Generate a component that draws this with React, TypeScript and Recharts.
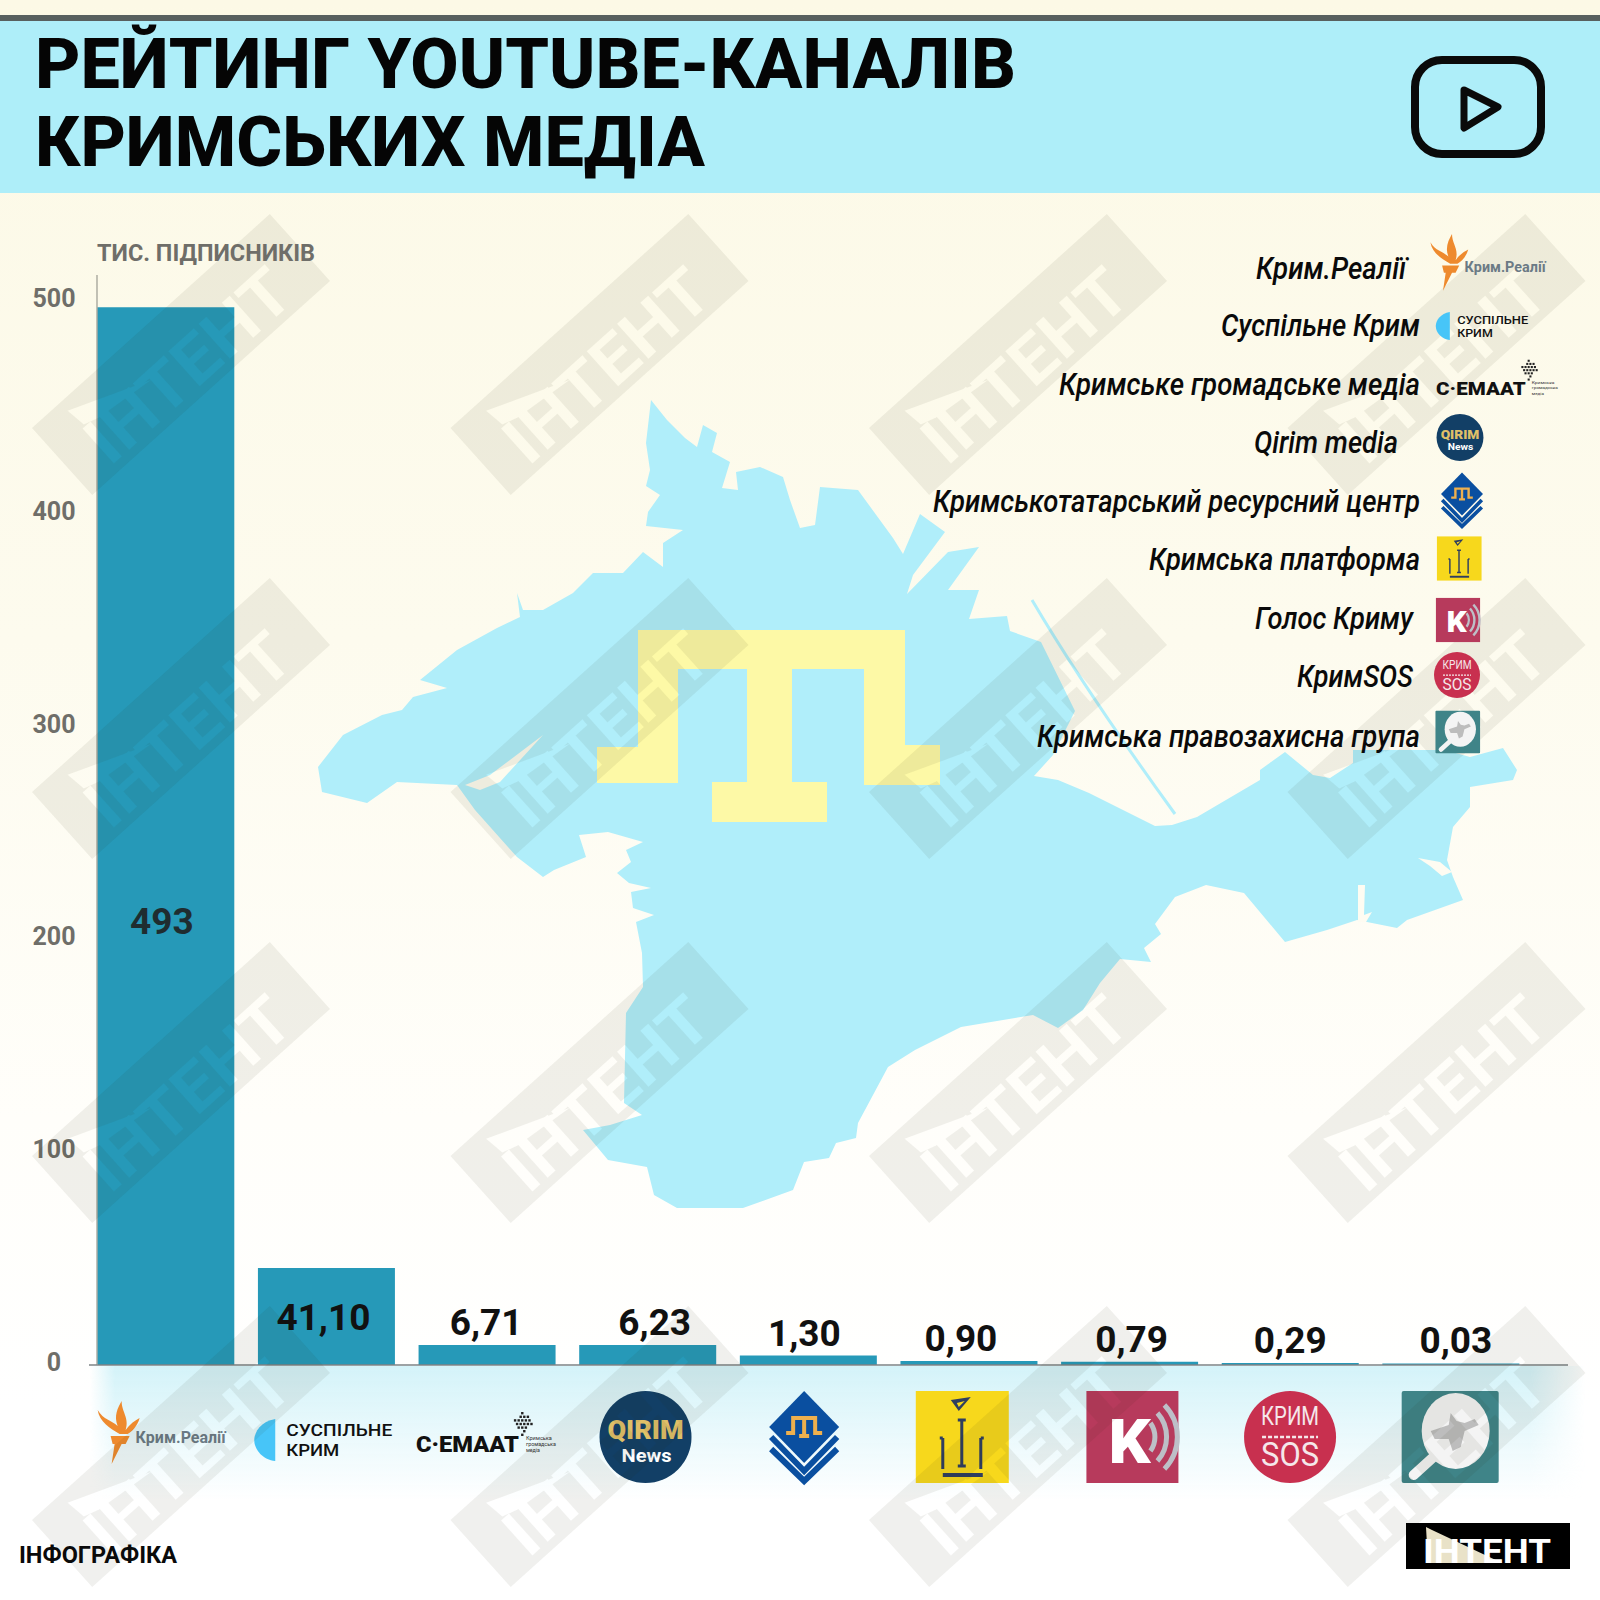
import React from "react";
import { BarChart, Bar, XAxis, YAxis, LabelList } from "recharts";

const channels = ["Крим.Реалії", "Суспільне Крим", "Кримське громадське медіа", "Qirim media", "Кримськотатарський ресурсний центр", "Кримська платформа", "Голос Криму", "КримSOS", "Кримська правозахисна група"];
const drawnValues = [493, 45.2, 9.3, 9.3, 4.4, 1.9, 1.5, 0.9, 0.7];
const valueLabels = ["493", "41,10", "6,71", "6,23", "1,30", "0,90", "0,79", "0,29", "0,03"];
const yTicks = [0, 100, 200, 300, 400, 500];
const chartData = channels.map((name, i) => ({ name, value: drawnValues[i], label: valueLabels[i] }));

const legendRows = [
  { x: 1256, w: 150, y: 279, lx: 1488, ly: 262, s: 0.9 },
  { x: 1221, w: 199, y: 336, lx: 1482, ly: 326, s: 0.67 },
  { x: 1059, w: 361, y: 395, lx: 1497, ly: 378, s: 0.87 },
  { x: 1254, w: 144, y: 453, lx: 1460, ly: 437.5, s: 0.51 },
  { x: 933, w: 487, y: 512, lx: 1462, ly: 500, s: 0.6 },
  { x: 1149, w: 271, y: 570, lx: 1459, ly: 558.5, s: 0.48 },
  { x: 1255, w: 158, y: 629, lx: 1458, ly: 620, s: 0.48 },
  { x: 1297, w: 116, y: 687, lx: 1457, ly: 675, s: 0.5 },
  { x: 1037, w: 383, y: 747, lx: 1458, ly: 732, s: 0.46 },
];
const logoYOffset = [-5, 3, -4, 0, 0, 0, 0, 0, 0];
const logoXOffset = [-4, -3, -1, -2, -4, -7, 3, 0, 0];
const labelXOffset = [-4, -3, -1, 7, -4, -8, 2, 0, 5];

const F = "Roboto, sans-serif";
const CRIMEA = "M651,400 L667,420 L685,438 L697,447 L703,425 L717,433 L712,452 L730,462 L722,488 L738,490 L736,472 L760,467 L783,477 L790,500 L800,528 L815,525 L820,487 L858,490 L893,538 L903,554 L920,514 L945,532 L913,575 L907,594 L948,552 L979,547 L948,590 L979,590 L969,619 L1007,616 L1010,631 L1041,642 L1075,711 L1053,755 L1034,776 L1058,780 L1089,793 L1155,826 L1172,825 L1197,817 L1260,780 L1260,770 L1285,752 L1313,775 L1330,778 L1353,763 L1353,750 L1445,750 L1470,757 L1503,748 L1517,770 L1513,780 L1470,787 L1470,807 L1453,827 L1447,860 L1453,877 L1463,900 L1407,920 L1397,928 L1357,920 L1327,930 L1285,942 L1244,893 L1206,885 L1175,897 L1155,924 L1161,934 L1144,948 L1151,962 L1120,959 L1100,983 L1083,1010 L1058,1028 L1033,1015 L961,1027 L915,1050 L888,1067 L858,1123 L856,1138 L836,1143 L829,1158 L804,1162 L793,1190 L743,1208 L677,1208 L654,1195 L647,1167 L608,1160 L583,1130 L610,1125 L642,1115 L624,1103 L626,1013 L643,987 L642,953 L636,922 L654,915 L633,908 L631,892 L651,888 L629,883 L617,873 L631,862 L626,850 L643,842 L608,832 L579,835 L586,857 L554,870 L543,877 L517,857 L475,810 L457,785 L397,782 L367,803 L322,792 L318,767 L343,735 L382,715 L402,710 L413,697 L447,688 L420,680 L457,650 L497,628 L520,617 L517,593 L523,610 L543,610 L573,593 L593,573 L623,573 L643,552 L663,567 L663,543 L683,530 L646,526 L648,512 L660,495 L646,486 L650,470 L646,443 Z";
const TAMGA = "M638,630 H905 V745 H940 V785 H864 V669 H792 V782 H827 V822 H712 V782 H747 V669 H678 V783 H597 V747 H638 Z";
const wmX = [181, 599.5, 1018, 1436.5];
const wmY = [354.5, 718.5, 1082.5, 1446.5];

function Logo({ i }: { i: number }) {
  const txt = (t: string, x: number, y: number, size: number, fill: string, w?: number, anchor?: string, weight = 700) => (
    <text x={x} y={y} fontFamily={F} fontSize={size} fontWeight={weight} fill={fill} textAnchor={anchor as any} textLength={w} lengthAdjust={w ? "spacingAndGlyphs" : undefined}>{t}</text>
  );
  if (i === 0) return (
    <g>
      <path d="M-51,4 L-32,4 L-36,12 L-40,12 L-50,32 L-47,12 L-49,12 Z" fill="#ee8a2e" />
      <path d="M-42,2 C-52,-4 -62,-10 -64,-22 C-58,-12 -50,-12 -44,-6 C-48,-16 -44,-24 -40,-31 C-40,-20 -32,-14 -36,-2 C-32,-8 -26,-12 -22,-14 C-24,-6 -30,0 -34,2 Z" fill="#ee8a2e" />
      {txt("Крим.Реалії", -26, 11, 16, "#6b7a85", 90)}
    </g>
  );
  if (i === 1) return (
    <g>
      <path d="M-48,-21 C-62,-19 -69,-8 -69,0 C-69,10 -60,20 -48,21 Z" fill="#47c5f8" />
      {txt("СУСПІЛЬНЕ", -37, -3.6, 16.5, "#111", 106, undefined, 500)}
      {txt("КРИМ", -37, 15.8, 16.5, "#111", 53, undefined, 500)}
    </g>
  );
  if (i === 2) {
    const rows = ["..#..", ".###.", "#####", "#####", ".###.", "..#..", "..#.."];
    return (
      <g>
        {txt("С·ЕМААТ", -70, 19, 22, "#111", 103, undefined, 900)}
        {rows.map((r, ry) => r.split("").map((c, rx) => c === "#" ? <rect key={ry + "-" + rx} x={28 + rx * 3.6 + (ry % 2) * 2} y={-21 + ry * 3.6} width={2.4} height={2.4} fill="#222" /> : null))}
        {txt("Кримська", 40, 7, 5, "#333", 26, undefined, 400)}
        {txt("громадська", 40, 13, 5, "#333", 30, undefined, 400)}
        {txt("медіа", 40, 19, 5, "#333", 14, undefined, 400)}
      </g>
    );
  }
  if (i === 3) return (
    <g>
      <circle r={46} fill="#123f66" />
      {txt("QIRIM", 0, 2, 26, "#e0c068", 76, "middle", 900)}
      {txt("News", 1, 25, 18, "#fff", 50, "middle")}
    </g>
  );
  if (i === 4) return (
    <g>
      <path d="M0,-46 L35,-10 L0,26 L-35,-10 Z" fill="#0a4fa0" />
      <path d="M-33,0 L0,34 L33,0" fill="none" stroke="#0a4fa0" strokeWidth={6} />
      <path d="M-33,12 L0,44 L33,12" fill="none" stroke="#0a4fa0" strokeWidth={6} />
      <path d="M-18,-4 H-11 V-19 H11 V-4 H18 M0,-19 V-1 M-5,-1 H5" fill="none" stroke="#eeb04e" strokeWidth={4} />
    </g>
  );
  if (i === 5) return (
    <g>
      <rect x={-46} y={-46} width={93} height={92} fill="#f7d81c" />
      <path d="M-11,-37 L9,-40 L-3,-26 Z M-5,-34 L3,-36 L-3,-30 Z" fill="#2f3e60" fillRule="evenodd" />
      <path d="M0,-17 V29 M-4,-17 H4 M-4,29 H4 M-19,1 V32 M-22,1 H-19 M19,1 V32 M22,1 H19" fill="none" stroke="#2f3e60" strokeWidth={3} />
      <rect x={-19} y={36} width={40} height={4} fill="#2f3e60" />
    </g>
  );
  if (i === 6) return (
    <g>
      <rect x={-46} y={-46} width={92} height={92} fill="#b73a5c" />
      {txt("K", -24, 26, 62, "#fff", 42, undefined, 900)}
      <path d="M18,-14 A24,24 0 0 1 18,14 M25,-24 A36,36 0 0 1 25,24 M32,-32 A46,46 0 0 1 32,32" fill="none" stroke="#bdbfc7" strokeWidth={5} />
    </g>
  );
  if (i === 7) return (
    <g>
      <circle r={46} fill="#c8304f" />
      {txt("КРИМ", 0, -12, 26, "#f5e7ea", 58, "middle", 400)}
      <line x1={-28} x2={28} y1={0} y2={0} stroke="#f5e7ea" strokeWidth={2.5} strokeDasharray="4 2" />
      {txt("SOS", 0, 29, 33, "#f5e7ea", 58, "middle", 400)}
    </g>
  );
  return (
    <g>
      <rect x={-49} y={-46} width={97} height={92} rx={2} fill="#3f8488" />
      <path d="M-15,18 L-37,38" stroke="#f4f4f4" strokeWidth={10} strokeLinecap="round" />
      <ellipse cx={5} cy={-6} rx={34} ry={38} fill="#f4f4f4" />
      <path d="M-20,-6 L-2,-12 L0,-24 L6,-16 L14,-14 L24,-18 L28,-12 L14,-6 L10,10 L2,14 L-2,2 L-16,2 Z" fill="#bdbdbd" />
    </g>
  );
}

// The reference's tick labels drift slightly from the scale the bars follow.
function YTick(props: any) {
  const { y, payload } = props;
  const drift = -3 + payload.value * 0.018;
  return <text x={54} y={y + drift + 9} textAnchor="middle" fontFamily={F} fontSize={25} fontWeight={700} fill="#6f6e69">{payload.value}</text>;
}
function XTick(props: any) {
  const { x, index } = props;
  return <g transform={`translate(${x + logoXOffset[index]},${1437 + logoYOffset[index]})`}><Logo i={index} /></g>;
}
function BarLabel(props: any) {
  const { index, value } = props;
  const vb = props.viewBox ?? props;
  const x = vb.x, y = vb.y, width = vb.width, height = vb.height;
  const inside = height > 50;
  const cy = inside ? y + height * (height > 500 ? 0.58 : 0.5) : y - 23;
  return <text x={x + width / 2 + labelXOffset[index]} y={cy + 13} textAnchor="middle" fontFamily={F} fontSize={37} fontWeight={700} fill={index === 0 ? "#1f2d30" : "#111"}>{value}</text>;
}

export default function App() {
  return (
    <div style={{ position: "absolute", left: 0, top: 0, width: 1600, height: 1600, overflow: "hidden", background: "linear-gradient(to bottom,#fcf9e6 0%,#fdfbee 40%,#fffefa 70%,#ffffff 88%)" }}>
      <svg width={1600} height={1600} style={{ position: "absolute", left: 0, top: 0, zIndex: 1 }}>
        <path d={CRIMEA} fill="#b0eefa" />
        <path d="M465,785 L490,775 L543,735 L500,782 L480,790 Z" fill="#fdfbee" />
        <path d="M1418,858 L1440,862 L1452,872 L1442,876 L1430,866 Z M1358,885 L1365,885 L1364,915 L1372,912 L1366,922 L1358,922 Z" fill="#fefcf2" />
        <path d="M1032,600 Q1085,690 1175,814" stroke="#b0eefa" strokeWidth={3} fill="none" />
        <path d={TAMGA} fill="#fdf9a6" />
      </svg>
      <div style={{ position: "absolute", left: 90, top: 1366, width: 1495, height: 134, zIndex: 1, background: "linear-gradient(to bottom,#d4f3f9,#ffffff00)", WebkitMaskImage: "linear-gradient(to right,transparent 0,#000 25px,#000 1440px,transparent 100%)", maskImage: "linear-gradient(to right,transparent 0,#000 25px,#000 1440px,transparent 100%)" }} />
      <div style={{ position: "absolute", left: 0, top: 0, zIndex: 2 }}>
        <BarChart width={1600} height={1600} data={chartData} margin={{ top: 275, right: 32, bottom: 5, left: 0 }} barSize={137}>
          <XAxis dataKey="name" interval={0} height={230} tickLine={false} axisLine={{ stroke: "#7d8386", strokeWidth: 1.5 }} tick={<XTick />} padding={{ left: -11.7, right: 37 }} />
          <YAxis width={97} domain={[0, 508]} ticks={yTicks} tickLine={false} axisLine={{ stroke: "#9a9a90", strokeWidth: 1.2 }} tick={<YTick />} />
          <Bar dataKey="value" fill="#2699b8" isAnimationActive={false}>
            <LabelList dataKey="label" content={<BarLabel />} />
          </Bar>
        </BarChart>
      </div>
      <svg width={1600} height={1600} style={{ position: "absolute", left: 0, top: 0, zIndex: 3, pointerEvents: "none" }}>
        <defs>
          <mask id="wm" maskUnits="userSpaceOnUse" x={-170} y={-60} width={340} height={120}>
            <rect x={-170} y={-60} width={340} height={120} fill="#fff" />
            <text x={-128} y={36} fontFamily={F} fontSize={66} fontWeight={700} fill="#000" textLength={252} lengthAdjust="spacingAndGlyphs">ІНТЕНТ</text>
            <path d="M-122,-34 L-39,-1 L-103,-8 L-119,-13 Z" fill="#000" />
          </mask>
        </defs>
        {wmY.map((cy) => wmX.map((cx) => (
          <g key={cx + "-" + cy} transform={`translate(${cx},${cy}) rotate(-42)`}>
            <rect x={-160} y={-45} width={320} height={90} fill="rgba(45,40,10,0.07)" mask="url(#wm)" />
          </g>
        )))}
      </svg>
      <svg width={1600} height={1600} style={{ position: "absolute", left: 0, top: 0, zIndex: 4 }}>
        <rect x={0} y={15} width={1600} height={6} fill="#58605f" />
        <rect x={0} y={21} width={1600} height={172} fill="#aeeef9" />
        <text x={35} y={88} fontFamily={F} fontSize={71} fontWeight={800} fill="#050505" textLength={981} lengthAdjust="spacingAndGlyphs">РЕЙТИНГ YOUTUBE-КАНАЛІВ</text>
        <text x={35} y={166} fontFamily={F} fontSize={71} fontWeight={800} fill="#050505" textLength={670} lengthAdjust="spacingAndGlyphs">КРИМСЬКИХ МЕДІА</text>
        <rect x={1415} y={60} width={126} height={94} rx={27} fill="none" stroke="#0a0a0a" strokeWidth={8} />
        <path d="M1464,90 L1498,107 L1464,128 Z" fill="none" stroke="#0a0a0a" strokeWidth={7} strokeLinejoin="round" />
        <text x={97} y={261} fontFamily={F} fontSize={24} fontWeight={700} fill="#6f6e69" textLength={218} lengthAdjust="spacingAndGlyphs">ТИС. ПІДПИСНИКІВ</text>
        <line x1={89} x2={97} y1={1365} y2={1365} stroke="#7d8386" strokeWidth={1.5} />
        {channels.map((name, i) => {
          const r = legendRows[i];
          return (
            <g key={name}>
              <text x={r.x} y={r.y} fontFamily={F} fontSize={32} fontStyle="italic" fontWeight={500} fill="#0a0a0a" textLength={r.w} lengthAdjust="spacingAndGlyphs">{name}</text>
              <g transform={`translate(${r.lx},${r.ly}) scale(${r.s})`}><Logo i={i} /></g>
            </g>
          );
        })}
        <text x={19} y={1563} fontFamily={F} fontSize={23} fontWeight={700} fill="#0a0a0a" textLength={158} lengthAdjust="spacingAndGlyphs">ІНФОГРАФІКА</text>
        <rect x={1406} y={1523} width={164} height={46} fill="#000" />
        <path d="M1426,1527 L1432,1530 L1502,1563 L1428,1563 Z" fill="#e9e2c8" />
        <text x={1423} y={1563} fontFamily={F} fontSize={34} fontWeight={700} fill="#fff" textLength={128} lengthAdjust="spacingAndGlyphs">ІНТЕНТ</text>
      </svg>
    </div>
  );
}
